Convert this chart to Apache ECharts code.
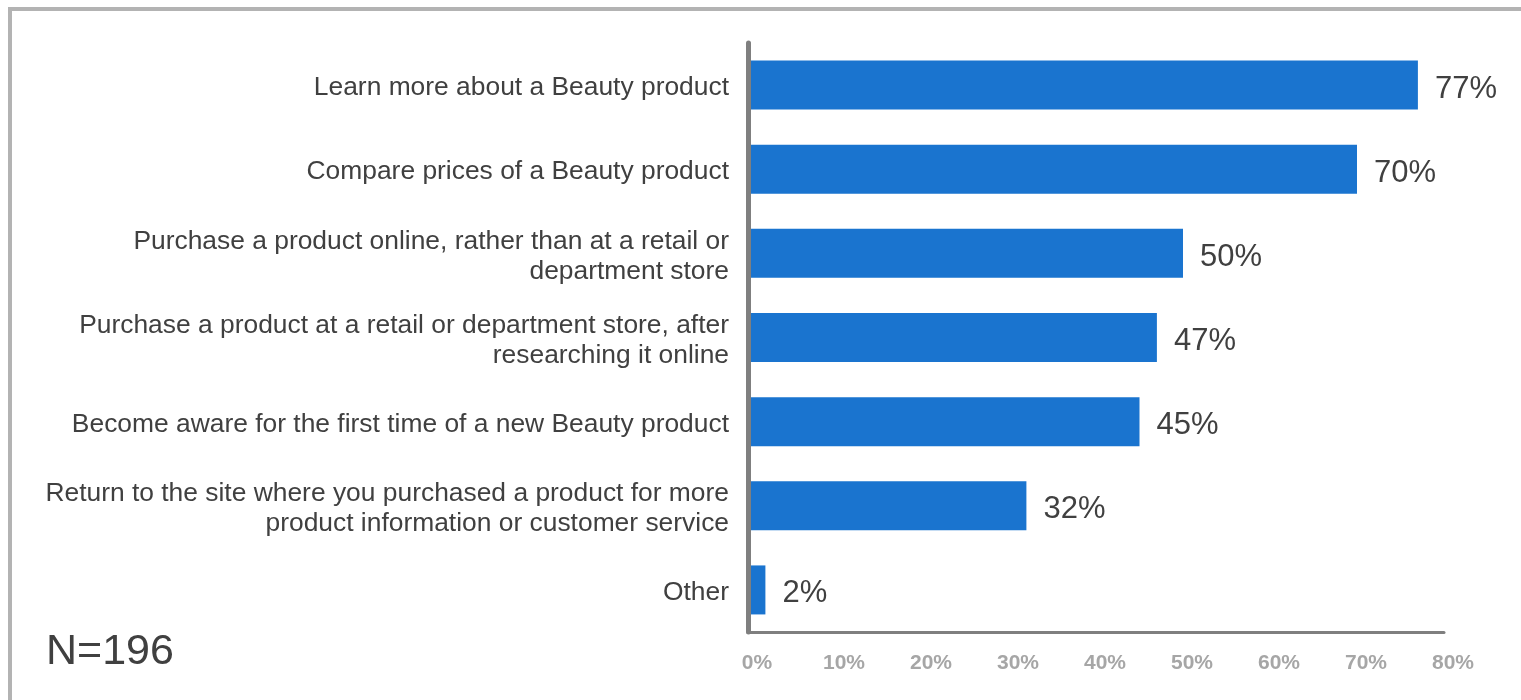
<!DOCTYPE html>
<html>
<head>
<meta charset="utf-8">
<title>Beauty product online activities</title>
<script src="https://cdn.jsdelivr.net/npm/echarts@6/dist/echarts.min.js"></script>
<style>
  html, body { margin: 0; padding: 0; background: #ffffff; }
  #chart { width: 1521px; height: 700px; }
</style>
</head>
<body>
<div id="chart"></div>
<script>
// Activities, top to bottom
const categories = [
  'Learn more about a Beauty product',
  'Compare prices of a Beauty product',
  'Purchase a product online, rather than at a retail or\ndepartment store',
  'Purchase a product at a retail or department store, after\nresearching it online',
  'Become aware for the first time of a new Beauty product',
  'Return to the site where you purchased a product for more\nproduct information or customer service',
  'Other'
];
// Share of respondents, percent
const values = [77, 70, 50, 47, 45, 32, 2];
const sampleNote = 'N=196';

const FONT = '"Liberation Sans", Arial, sans-serif';

const chart = echarts.init(document.getElementById('chart'), null, { renderer: 'canvas' });

chart.setOption({
  backgroundColor: '#ffffff',
  animation: false,
  textStyle: { fontFamily: FONT },
  grid: { left: 748, top: 43, width: 696, height: 589, containLabel: false },
  xAxis: {
    type: 'value',
    min: 0,
    max: 80,
    interval: 10,
    axisLine: { show: true, lineStyle: { color: '#7f7f7f', width: 3 } },
    axisTick: { show: false },
    splitLine: { show: false },
    axisLabel: {
      formatter: '{value}%',
      color: '#a6a6a6',
      fontWeight: 'bold',
      fontSize: 21,
      fontFamily: FONT,
      margin: 21,
      padding: [0, 0, 0, 18]
    }
  },
  yAxis: {
    type: 'category',
    data: categories,
    inverse: true,
    z: 5,
    axisLine: { show: true, lineStyle: { color: '#7f7f7f', width: 5 } },
    axisTick: { show: false },
    axisLabel: {
      margin: 19,
      align: 'right',
      // a thin spacer line on top nudges each label slightly below the band centre
      formatter: function (v) {
        return '{s| }\n' + v.split('\n').map(function (l) { return '{t|' + l + '}'; }).join('\n');
      },
      rich: {
        s: { fontSize: 1, lineHeight: 6 },
        t: { color: '#404040', fontSize: 26.4, lineHeight: 30, fontFamily: FONT, align: 'right' }
      }
    }
  },
  series: [{
    type: 'bar',
    data: values,
    barWidth: 49,
    itemStyle: { color: '#1a74cf' },
    label: {
      show: true,
      position: 'right',
      distance: 17,
      offset: [0, 4],
      formatter: '{c}%',
      color: '#404040',
      fontSize: 31,
      fontFamily: FONT
    }
  }],
  graphic: [
    {
      type: 'rect',
      silent: true,
      shape: { x: 10, y: 9, width: 1700, height: 900 },
      style: { fill: 'none', stroke: '#b3b3b3', lineWidth: 4 }
    },
    {
      type: 'text',
      silent: true,
      x: 46,
      y: 652,
      style: {
        text: sampleNote,
        fill: '#404040',
        fontSize: 43,
        fontFamily: FONT,
        verticalAlign: 'middle'
      }
    }
  ]
});
</script>
</body>
</html>
